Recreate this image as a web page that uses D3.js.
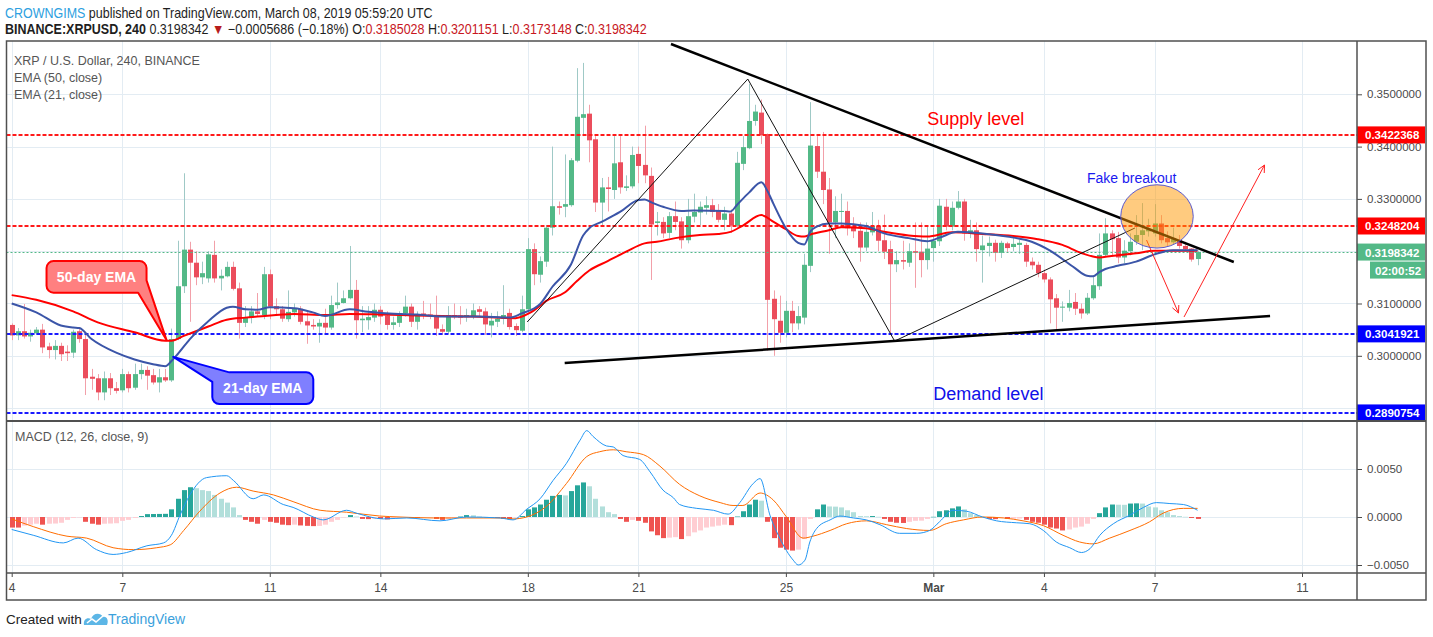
<!DOCTYPE html>
<html><head><meta charset="utf-8">
<script src="https://cdn.jsdelivr.net/npm/d3@7"></script>
<style>
body{margin:0;background:#fff}
svg{display:block}
text{font-family:Arial,"Liberation Sans",sans-serif}
</style>
</head><body>
<svg id="c" width="1433" height="637"></svg>
<script>
// ---------------- DATA ----------------
// 4h candles starting 2019-02-04 00:00 UTC : [open, high, low, close]
const ohlc = [
[0.3059,0.3062,0.3030,0.3039],[0.3039,0.3053,0.3030,0.3047],[0.3047,0.3099,0.3033,0.3037],[0.3037,0.3050,0.3027,0.3044],
[0.3043,0.3055,0.3040,0.3050],[0.3050,0.3061,0.3005,0.3016],[0.3018,0.3025,0.2995,0.3011],[0.3011,0.3030,0.2993,0.3019],
[0.3019,0.3025,0.2990,0.3003],[0.3008,0.3020,0.2990,0.3005],[0.3006,0.3050,0.2996,0.3046],[0.3047,0.3052,0.3025,0.3032],
[0.3032,0.3040,0.2925,0.2957],[0.2960,0.2975,0.2935,0.2956],[0.2957,0.2965,0.2915,0.2930],[0.2930,0.2970,0.2915,0.2957],
[0.2957,0.2967,0.2925,0.2938],[0.2938,0.2950,0.2928,0.2933],[0.2934,0.2975,0.2930,0.2965],[0.2965,0.2970,0.2930,0.2938],
[0.2939,0.2985,0.2935,0.2965],[0.2965,0.2985,0.2955,0.2973],[0.2973,0.2980,0.2935,0.2962],[0.2963,0.2975,0.2945,0.2949],
[0.2949,0.2975,0.2930,0.2959],[0.2959,0.2975,0.2950,0.2953],[0.2953,0.3052,0.2950,0.3032],[0.3032,0.3220,0.3030,0.3133],
[0.3133,0.3349,0.3120,0.3203],[0.3203,0.3218,0.3065,0.3178],[0.3178,0.3200,0.3135,0.3150],[0.3150,0.3180,0.3137,0.3158],
[0.3148,0.3200,0.3140,0.3194],[0.3193,0.3220,0.3140,0.3148],[0.3148,0.3165,0.3125,0.3153],[0.3152,0.3180,0.3150,0.3170],
[0.3170,0.3180,0.3125,0.3128],[0.3129,0.3140,0.3033,0.3063],[0.3063,0.3095,0.3055,0.3073],[0.3073,0.3095,0.3062,0.3085],
[0.3085,0.3120,0.3075,0.3080],[0.3078,0.3170,0.3070,0.3156],[0.3156,0.3165,0.3070,0.3094],[0.3095,0.3110,0.3080,0.3089],
[0.3089,0.3095,0.3065,0.3071],[0.3070,0.3125,0.3065,0.3084],[0.3083,0.3100,0.3075,0.3090],[0.3090,0.3095,0.3060,0.3065],
[0.3066,0.3085,0.3023,0.3058],[0.3059,0.3070,0.3050,0.3056],[0.3056,0.3070,0.3025,0.3063],[0.3063,0.3090,0.3040,0.3054],
[0.3054,0.3115,0.3050,0.3097],[0.3097,0.3140,0.3090,0.3102],[0.3101,0.3125,0.3100,0.3110],[0.3110,0.3210,0.3108,0.3126],
[0.3126,0.3145,0.3033,0.3068],[0.3068,0.3095,0.3045,0.3071],[0.3068,0.3095,0.3050,0.3074],[0.3073,0.3100,0.3065,0.3088],
[0.3088,0.3095,0.3060,0.3075],[0.3077,0.3085,0.3050,0.3059],[0.3059,0.3075,0.3050,0.3064],[0.3063,0.3085,0.3055,0.3081],
[0.3081,0.3115,0.3075,0.3094],[0.3094,0.3100,0.3055,0.3065],[0.3065,0.3085,0.3050,0.3078],[0.3081,0.3105,0.3070,0.3078],
[0.3079,0.3100,0.3070,0.3077],[0.3078,0.3115,0.3038,0.3052],[0.3051,0.3060,0.3040,0.3046],[0.3046,0.3095,0.3042,0.3078],
[0.3078,0.3100,0.3070,0.3074],[0.3077,0.3095,0.3060,0.3073],[0.3074,0.3090,0.3065,0.3078],[0.3074,0.3100,0.3070,0.3087],
[0.3089,0.3095,0.3075,0.3084],[0.3085,0.3092,0.3040,0.3060],[0.3058,0.3082,0.3035,0.3067],[0.3065,0.3085,0.3055,0.3071],
[0.3071,0.3135,0.3060,0.3078],[0.3082,0.3090,0.3050,0.3055],[0.3057,0.3062,0.3038,0.3049],[0.3048,0.3115,0.3045,0.3089],
[0.3089,0.3225,0.3080,0.3204],[0.3204,0.3215,0.3135,0.3156],[0.3155,0.3190,0.3140,0.3181],[0.3180,0.3250,0.3170,0.3245],
[0.3245,0.3400,0.3230,0.3286],[0.3286,0.3295,0.3270,0.3283],[0.3285,0.3385,0.3265,0.3290],[0.3288,0.3378,0.3285,0.3374],
[0.3373,0.3550,0.3370,0.3457],[0.3455,0.3560,0.3420,0.3462],[0.3463,0.3480,0.3370,0.3412],[0.3414,0.3420,0.3275,0.3293],
[0.3293,0.3340,0.3250,0.3322],[0.3322,0.3342,0.3276,0.3319],[0.3317,0.3420,0.3300,0.3368],[0.3370,0.3420,0.3310,0.3322],
[0.3321,0.3345,0.3315,0.3324],[0.3324,0.3400,0.3320,0.3384],[0.3386,0.3400,0.3330,0.3363],[0.3365,0.3440,0.3330,0.3345],
[0.3344,0.3360,0.3145,0.3251],[0.3254,0.3275,0.3230,0.3257],[0.3256,0.3265,0.3225,0.3234],[0.3235,0.3275,0.3225,0.3267],
[0.3267,0.3295,0.3240,0.3256],[0.3257,0.3265,0.3205,0.3221],[0.3221,0.3300,0.3215,0.3267],[0.3266,0.3310,0.3255,0.3275],
[0.3274,0.3295,0.3250,0.3285],[0.3283,0.3305,0.3270,0.3288],[0.3288,0.3300,0.3265,0.3275],[0.3277,0.3290,0.3255,0.3260],
[0.3260,0.3285,0.3240,0.3272],[0.3272,0.3280,0.3235,0.3249],[0.3249,0.3390,0.3245,0.3369],[0.3367,0.3420,0.3355,0.3399],
[0.3397,0.3520,0.3395,0.3449],[0.3449,0.3480,0.3440,0.3467],[0.3465,0.3490,0.3405,0.3422],[0.3424,0.3425,0.3010,0.3107],
[0.3109,0.3125,0.3000,0.3070],[0.3067,0.3115,0.3025,0.3044],[0.3044,0.3105,0.3035,0.3086],[0.3086,0.3105,0.3045,0.3062],
[0.3062,0.3095,0.3050,0.3076],[0.3073,0.3195,0.3060,0.3174],[0.3172,0.3485,0.3160,0.3402],[0.3401,0.3420,0.3340,0.3352],
[0.3352,0.3428,0.3290,0.3317],[0.3318,0.3340,0.3195,0.3255],[0.3255,0.3305,0.3225,0.3277],[0.3275,0.3310,0.3250,0.3277],
[0.3277,0.3295,0.3230,0.3244],[0.3247,0.3265,0.3225,0.3238],[0.3239,0.3255,0.3180,0.3207],[0.3207,0.3255,0.3200,0.3237],
[0.3236,0.3275,0.3230,0.3248],[0.3248,0.3260,0.3200,0.3220],[0.3221,0.3270,0.3185,0.3199],[0.3204,0.3220,0.3043,0.3175],
[0.3175,0.3200,0.3160,0.3183],[0.3183,0.3220,0.3165,0.3180],[0.3178,0.3215,0.3170,0.3200],[0.3200,0.3255,0.3130,0.3197],
[0.3199,0.3255,0.3150,0.3183],[0.3183,0.3250,0.3165,0.3205],[0.3206,0.3245,0.3180,0.3220],[0.3219,0.3300,0.3210,0.3287],
[0.3285,0.3300,0.3240,0.3247],[0.3247,0.3295,0.3240,0.3283],[0.3283,0.3315,0.3280,0.3295],[0.3295,0.3300,0.3220,0.3234],
[0.3234,0.3260,0.3225,0.3240],[0.3240,0.3255,0.3180,0.3204],[0.3202,0.3230,0.3140,0.3211],[0.3210,0.3228,0.3190,0.3216],
[0.3216,0.3222,0.3180,0.3197],[0.3197,0.3220,0.3187,0.3216],[0.3215,0.3218,0.3198,0.3206],[0.3208,0.3225,0.3200,0.3214],
[0.3212,0.3222,0.3195,0.3216],[0.3212,0.3216,0.3170,0.3180],[0.3180,0.3188,0.3165,0.3173],[0.3174,0.3180,0.3150,0.3158],
[0.3158,0.3165,0.3140,0.3146],[0.3146,0.3150,0.3062,0.3108],[0.3110,0.3118,0.3048,0.3092],[0.3092,0.3104,0.3065,0.3094],
[0.3092,0.3126,0.3085,0.3101],[0.3103,0.3120,0.3078,0.3090],[0.3090,0.3100,0.3071,0.3081],[0.3081,0.3120,0.3078,0.3111],
[0.3110,0.3151,0.3107,0.3135],[0.3133,0.3234,0.3126,0.3193],[0.3193,0.3263,0.3190,0.3234],[0.3234,0.3240,0.3190,0.3223],
[0.3225,0.3237,0.3177,0.3188],[0.3188,0.3221,0.3177,0.3201],[0.3200,0.3234,0.3192,0.3218],[0.3218,0.3269,0.3212,0.3231],
[0.3231,0.3292,0.3202,0.3240],[0.3238,0.3262,0.3228,0.3243],[0.3234,0.3290,0.3228,0.3253],[0.3253,0.3269,0.3215,0.3221],
[0.3225,0.3238,0.3210,0.3217],[0.3217,0.3245,0.3212,0.3225],[0.3221,0.3231,0.3205,0.3210],[0.3210,0.3218,0.3200,0.3204],
[0.3205,0.3206,0.3180,0.3184],[0.3185028,0.3201151,0.3173148,0.3198342]
];
// EMA(50) and EMA(21): [candle index, value]
const ema50 = [[0,0.3116],[4,0.3107],[10,0.3085],[14,0.3064],[20,0.3045],[25,0.3029],[26,0.3029],[28,0.3038],[32,0.3056],[35,0.3069],[38,0.3073],[40,0.3075],[46,0.3080],[51,0.3078],[55,0.3080],[60,0.3079],[66,0.3077],[75,0.3075],[82,0.3072],[84,0.3080],[85,0.3087],[87,0.3105],[90,0.3121],[92,0.3143],[94,0.3163],[97,0.3181],[100,0.3199],[103,0.3215],[105,0.3218],[108,0.3225],[112,0.3231],[115,0.3233],[117,0.3237],[119,0.3249],[122,0.3269],[124,0.3256],[126,0.3242],[128,0.3229],[129,0.3228],[130,0.3232],[133,0.3240],[135,0.3246],[139,0.3244],[142,0.3237],[146,0.3230],[149,0.3228],[153,0.3236],[158,0.3233],[163,0.3229],[167,0.3223],[171,0.3212],[174,0.3197],[177,0.3188],[179,0.3191],[183,0.3196],[186,0.3201],[193,0.3201]];
const ema21 = [[0,0.3100],[4,0.3083],[8,0.3058],[10,0.3054],[11,0.3053],[13,0.3032],[17,0.3006],[20,0.2993],[23,0.2984],[25,0.2980],[26,0.2990],[27,0.3003],[29,0.3032],[32,0.3066],[35,0.3092],[36,0.3094],[38,0.3089],[40,0.3088],[42,0.3093],[46,0.3091],[49,0.3083],[51,0.3076],[55,0.3089],[58,0.3084],[63,0.3080],[66,0.3079],[70,0.3075],[76,0.3075],[81,0.3073],[83,0.3081],[86,0.3099],[88,0.3132],[91,0.3174],[93,0.3230],[94,0.3244],[96,0.3256],[99,0.3275],[102,0.3298],[103,0.3299],[104,0.3294],[106,0.3285],[109,0.3277],[111,0.3278],[116,0.3277],[117,0.3276],[118,0.3288],[120,0.3312],[122,0.3332],[123,0.3315],[124,0.3290],[126,0.3244],[128,0.3216],[129,0.3213],[130,0.3238],[131,0.3247],[133,0.3253],[135,0.3253],[139,0.3248],[142,0.3234],[146,0.3225],[149,0.3219],[151,0.3226],[154,0.3237],[158,0.3234],[162,0.3228],[166,0.3218],[169,0.3201],[173,0.3168],[175,0.3153],[176,0.3152],[177,0.3160],[178,0.3166],[180,0.3172],[183,0.3180],[186,0.3194],[189,0.3202],[193,0.3202]];
// MACD (12,26,9)
const macdLine = [[0,-0.0013],[3.5,-0.0019],[8.4,-0.0027],[10.8,-0.0022],[13.8,-0.0034],[16.5,-0.0039],[18.7,-0.0037],[22,-0.0030],[24.7,-0.0027],[26,-0.0019],[27.4,0.0002],[29,0.0023],[31.7,0.0041],[35,0.0043],[36.1,0.0038],[39.3,0.0019],[41,0.0023],[44.2,0.0013],[45.8,0.0010],[49.1,0.0000],[50.7,-0.0003],[54.5,0.0007],[56.1,0.0004],[60.5,-0.0002],[64.3,-0.0001],[69.7,-0.0004],[74,0.0000],[79.5,-0.0001],[81.6,-0.0003],[83.8,0.0008],[86,0.0019],[88.1,0.0038],[90.3,0.0056],[92.5,0.0080],[93.6,0.0090],[94.6,0.0084],[96.8,0.0074],[97.9,0.0073],[99.5,0.0064],[102.2,0.0060],[103.9,0.0047],[106,0.0028],[107.7,0.0020],[108.7,0.0013],[111.5,0.0009],[114.2,0.0007],[116.6,0.0003],[118.5,0.0015],[120.7,0.0035],[121.8,0.0040],[123.4,0.0002],[125,-0.0022],[127.2,-0.0045],[128,-0.0050],[129.1,-0.0045],[129.9,-0.0026],[131,-0.0012],[133.2,-0.0003],[134.8,0.0001],[137,-0.0001],[139.1,-0.0003],[141.3,-0.0008],[144.5,-0.0017],[147.3,-0.0017],[149.4,-0.0014],[151,-0.0005],[153.2,0.0007],[155.4,0.0006],[158,0.0000],[160.3,-0.0004],[163.5,-0.0006],[165.7,-0.0007],[167.9,-0.0014],[170,-0.0026],[172.2,-0.0032],[174.1,-0.0037],[175.5,-0.0033],[177.1,-0.0019],[179.3,-0.0007],[182,0.0002],[184.2,0.0010],[186.3,0.0015],[188.5,0.0014],[190.7,0.0013],[193,0.0007]];
const signalLine = [[0,-0.0002],[3.5,-0.0010],[9,-0.0020],[12.2,-0.0022],[16.5,-0.0032],[19.8,-0.0034],[23.6,-0.0032],[25.8,-0.0029],[28,-0.0014],[30.6,0.0006],[33.9,0.0025],[36.6,0.0031],[39.3,0.0027],[42.6,0.0023],[45.8,0.0016],[50.2,0.0007],[54.5,0.0005],[59.9,0.0001],[63.2,0.0000],[68.6,-0.0001],[74,-0.0001],[79.5,-0.0001],[81.6,-0.0002],[83.8,0.0000],[87,0.0011],[90.3,0.0035],[93.6,0.0063],[95.7,0.0068],[97.9,0.0070],[100,0.0068],[102.8,0.0065],[105.5,0.0053],[108.7,0.0034],[112,0.0022],[115.3,0.0015],[117.4,0.0012],[119,0.0012],[121.8,0.0025],[123.9,0.0018],[126.1,0.0000],[128.8,-0.0022],[130.4,-0.0020],[133.2,-0.0014],[135.9,-0.0007],[139.1,-0.0004],[142.4,-0.0008],[145.6,-0.0012],[149.4,-0.0014],[152.1,-0.0007],[154.9,-0.0003],[158,0.0000],[161.4,-0.0001],[164.6,-0.0004],[167.9,-0.0009],[171.1,-0.0019],[173.8,-0.0026],[176,-0.0028],[178.7,-0.0022],[182,-0.0014],[185.2,-0.0005],[187.4,0.0004],[190.7,0.0009],[193,0.0009]];
const macdHist = [
-0.0011,-0.0011,-0.0009,-0.0008,-0.0007,-0.0008,-0.0007,-0.00068,-0.0006,-0.0003,
-0.0001,-0.00005,-0.0005,-0.0007,-0.0008,-0.0007,-0.00068,-0.00065,-0.0004,-0.0003,
-0.0001,0.0001,0.0003,0.00031,0.00032,0.00033,0.0008,0.0019,0.0028,0.0031,
0.0030,0.0028,0.0027,0.0023,0.0019,0.0015,0.0010,0.0002,-0.0003,-0.0005,
-0.0007,-0.0003,-0.0005,-0.0006,-0.0008,-0.00085,-0.0008,-0.00088,-0.00092,-0.00095,
-0.00093,-0.0008,-0.0005,-0.0003,-0.00005,0.0002,0.00005,-0.0002,-0.00022,-0.00018,
-0.0002,-0.00025,-0.00012,-0.0001,-0.00005,-0.0001,-0.00011,-0.00005,-0.00004,-0.0002,
-0.0003,-0.0002,-0.0001,0.00005,0.0002,0.00018,0.00005,0.00001,-0.00005,-0.0001,
-0.0002,-0.00022,-0.00005,0.0001,0.0008,0.0010,0.0013,0.0018,0.0022,0.0023,
0.00225,0.0027,0.0033,0.0036,0.0032,0.0019,0.0011,0.0005,0.0003,-0.0002,
-0.0005,-0.0003,-0.0004,-0.0006,-0.0015,-0.0019,-0.0022,-0.00215,-0.0021,-0.0023,
-0.0020,-0.0016,-0.0014,-0.0011,-0.0010,-0.0009,-0.0008,-0.00085,0.00005,0.0006,
0.0013,0.0018,0.0017,-0.0005,-0.0022,-0.0032,-0.0034,-0.0035,-0.0034,-0.0023,
-0.0002,0.0008,0.0013,0.0011,0.00108,0.0010,0.0007,0.0005,0.0001,0.00008,
0.0001,0.00002,-0.0002,-0.0005,-0.0006,-0.00062,-0.0005,-0.0004,-0.00038,-0.0002,
0.00002,0.0006,0.0007,0.0009,0.0011,0.0008,0.0004,0.0002,0.00002,-0.0002,
-0.00022,-0.0001,-0.0002,-0.00018,-0.00016,-0.0003,-0.0005,-0.0006,-0.0008,-0.0011,
-0.0012,-0.0014,-0.0013,-0.0011,-0.0010,-0.0007,-0.0002,0.0004,0.0010,0.0013,
0.00128,0.00127,0.0014,0.00142,0.0014,0.0011,0.0010,0.0007,0.0005,0.0002,
0.0001,0.00002,-0.0001,-0.0002];
const supplyLevels = [0.3422368, 0.3248204];
const demandLevels = [0.3041921, 0.2890754];
const priceTicks = [0.29,0.30,0.31,0.32,0.33,0.34,0.35];
const priceTickLabels = [0.30,0.31,0.33,0.34,0.35];
const macdTicks = [-0.005, 0, 0.005];
const dateTicks = ["2019-02-04","2019-02-07","2019-02-11","2019-02-14","2019-02-18","2019-02-21","2019-02-25","2019-03-01","2019-03-04","2019-03-07","2019-03-11"];
const countdown = "02:00:52";
const changeText = "\u22120.0005686 (\u22120.18%)";
// drawings (candle index, price)
const trendUpper = [[107.3,0.35962],[198.9,0.31794]];
const trendLower = [[90.0,0.29862],[204.8,0.30761]];
const wavePath = [[83.9,0.30646],[119.8,0.35292],[143.7,0.30282],[182.8,0.32443]];
const arrowDown = [[184.7,0.32213],[189.9,0.30818]];
const arrowUp = [[190.8,0.30742],[203.9,0.33648]];
const fakeZone = {i0:180.5, i1:192.3, p0:0.3206, p1:0.3327};
const labelsText = [
  {t:"Supply level", i:149, p:0.34528, c:"#ff0000", s:18},
  {t:"Demand level", i:150, p:0.29269, c:"#1010e8", s:18},
  {t:"Fake breakout", i:175, p:0.3340, c:"#1a1af0", s:14}
];

// ---------------- LAYOUT ----------------
const svg = d3.select("#c");
svg.append("rect").attr("width",1433).attr("height",637).attr("fill","#fff");
const L=6.5, R=1357, T=41, MB=421, PB=573, AB=600, AR=1426;
const base = Date.UTC(2019,1,4), H4 = 4*3600*1000;
const x = d3.scaleUtc().domain([new Date(base), new Date(Date.UTC(2019,2,11))]).range([11.7,1302]);
const xi = i => x(new Date(base + i*H4));
const y = d3.scaleLinear().domain([0.29,0.35]).range([408.1,94.3]);
const ym = d3.scaleLinear().domain([-0.005,0.005]).range([565,469]);
const gridC = "#e3ecf3";
const dates = dateTicks.map(s => new Date(s+"T00:00:00Z"));

const defs = svg.append("defs");
defs.append("clipPath").attr("id","cm").append("rect").attr("x",L).attr("y",T).attr("width",R-L).attr("height",MB-T);
defs.append("clipPath").attr("id","cd").append("rect").attr("x",L).attr("y",MB).attr("width",R-L).attr("height",PB-MB);

// grid
const grid = svg.append("g");
grid.selectAll("line.h").data(priceTicks).join("line")
  .attr("x1",L).attr("x2",R).attr("y1",d=>Math.round(y(d))+0.5).attr("y2",d=>Math.round(y(d))+0.5)
  .attr("stroke",gridC);
grid.selectAll("line.hm").data(macdTicks).join("line")
  .attr("x1",L).attr("x2",R).attr("y1",d=>Math.round(ym(d))+0.5).attr("y2",d=>Math.round(ym(d))+0.5)
  .attr("stroke",gridC);
grid.selectAll("line.v").data(dates).join("line")
  .attr("x1",d=>Math.round(x(d))+0.5).attr("x2",d=>Math.round(x(d))+0.5).attr("y1",T).attr("y2",PB)
  .attr("stroke",gridC);

// main pane
const gm = svg.append("g").attr("clip-path","url(#cm)");
const upC="#53b987", dnC="#eb4d5c", upW="#9fc9c6", dnW="#f2a0a9";
const cx = i => Math.round(xi(i));
gm.selectAll("line.wick").data(ohlc).join("line")
  .attr("x1",(d,i)=>cx(i)+0.5).attr("x2",(d,i)=>cx(i)+0.5)
  .attr("y1",d=>y(Math.max(d[1],d[0],d[3]))).attr("y2",d=>y(Math.min(d[2],d[0],d[3])))
  .attr("stroke",d=>d[3]>=d[0]?upW:dnW).attr("stroke-width",1);
gm.selectAll("rect.body").data(ohlc).join("rect")
  .attr("x",(d,i)=>cx(i)-2).attr("width",5)
  .attr("y",d=>y(Math.max(d[0],d[3])))
  .attr("height",d=>Math.max(1,Math.abs(y(d[0])-y(d[3]))))
  .attr("fill",d=>d[3]>=d[0]?upC:dnC);

// level lines
const lvl = (v,c)=>gm.append("line").attr("x1",L).attr("x2",R).attr("y1",y(v)).attr("y2",y(v))
  .attr("stroke",c).attr("stroke-width",2).attr("stroke-dasharray","4 2");
supplyLevels.forEach(v=>lvl(v,"#ff1a1a"));
demandLevels.forEach(v=>lvl(v,"#1a1aff"));
const last = ohlc[ohlc.length-1];
gm.append("line").attr("x1",L).attr("x2",R).attr("y1",Math.round(y(last[3]))+0.5).attr("y2",Math.round(y(last[3]))+0.5)
  .attr("stroke",upC).attr("stroke-width",1).attr("stroke-dasharray","2 2");

// EMAs
const lineP = d3.line().x(d=>xi(d[0])).y(d=>y(d[1])).curve(d3.curveMonotoneX);
gm.append("path").attr("d",lineP(ema50)).attr("fill","none").attr("stroke","#ff0000").attr("stroke-width",2);
gm.append("path").attr("d",lineP(ema21)).attr("fill","none").attr("stroke","#3b55a8").attr("stroke-width",2);

// drawings
const straight = d3.line().x(d=>xi(d[0])).y(d=>y(d[1]));
gm.append("path").attr("d",straight(wavePath)).attr("fill","none").attr("stroke","#111").attr("stroke-width",1);
gm.append("path").attr("d",straight(trendUpper)).attr("fill","none").attr("stroke","#000").attr("stroke-width",2.5);
gm.append("path").attr("d",straight(trendLower)).attr("fill","none").attr("stroke","#000").attr("stroke-width",2.5);
function arrow(pts){
  const x1=xi(pts[0][0]), y1=y(pts[0][1]), x2=xi(pts[1][0]), y2=y(pts[1][1]);
  const a=Math.atan2(y2-y1,x2-x1), h=8, w=0.45;
  gm.append("path").attr("d",`M${x1},${y1}L${x2},${y2}M${x2-h*Math.cos(a-w)},${y2-h*Math.sin(a-w)}L${x2},${y2}L${x2-h*Math.cos(a+w)},${y2-h*Math.sin(a+w)}`)
    .attr("fill","none").attr("stroke","#ff2020").attr("stroke-width",1);
}
arrow(arrowDown); arrow(arrowUp);
gm.append("ellipse")
  .attr("cx",(xi(fakeZone.i0)+xi(fakeZone.i1))/2).attr("cy",(y(fakeZone.p0)+y(fakeZone.p1))/2)
  .attr("rx",(xi(fakeZone.i1)-xi(fakeZone.i0))/2).attr("ry",(y(fakeZone.p0)-y(fakeZone.p1))/2)
  .attr("fill","rgba(255,152,0,0.5)").attr("stroke","#5a5ad0").attr("stroke-width",1);
labelsText.forEach(d=>gm.append("text").attr("x",xi(d.i)).attr("y",y(d.p)).attr("dominant-baseline","central")
  .attr("font-size",d.s).attr("fill",d.c).text(d.t));

// callouts
function callout(pathD, fill, stroke, tx, ty, label){
  svg.append("path").attr("d",pathD).attr("fill",fill).attr("stroke",stroke).attr("stroke-width",2).attr("stroke-linejoin","round");
  svg.append("text").attr("x",tx).attr("y",ty).attr("text-anchor","middle").attr("dominant-baseline","central")
    .attr("font-size",14).attr("font-weight","bold").attr("fill","#fff").text(label);
}
{
  const tx=xi(25.2), ty=y(ema50[5][1]+0.0001);
  const bl=tx-120, bt=ty-79, br=tx-20, bb=ty-47.4, r=7;
  const d=`M${bl+r},${bt}H${br-r}A${r},${r} 0 0 1 ${br},${bt+r}V${ty-59.7}L${tx},${ty}L${tx-28.4},${bb}H${bl+r}A${r},${r} 0 0 1 ${bl},${bb-r}V${bt+r}A${r},${r} 0 0 1 ${bl+r},${bt}Z`;
  callout(d,"#ff8080","#ff0000",(bl+br)/2,(bt+bb)/2,"50-day EMA");
}
{
  const tx=xi(26.3), ty=y(0.2998);
  const bl=tx+39, bt=ty+15.5, br=tx+140, bb=ty+47.2, r=7;
  const d=`M${tx+56},${bt}H${br-r}A${r},${r} 0 0 1 ${br},${bt+r}V${bb-r}A${r},${r} 0 0 1 ${br-r},${bb}H${bl+r}A${r},${r} 0 0 1 ${bl},${bb-r}V${ty+25}L${tx},${ty}Z`;
  callout(d,"#7f7fff","#0000ff",(bl+br)/2,(bt+bb)/2,"21-day EMA");
}

// MACD pane
const gd = svg.append("g").attr("clip-path","url(#cd)");
const histColor = (v,i)=>{
  const p = i>0?macdHist[i-1]:v;
  if (v>=0) return p<v?"#26a69a":"#b2dfdb";
  return p<v?"#ffcdd2":"#ef5350";
};
gd.selectAll("rect.h").data(macdHist).join("rect")
  .attr("x",(d,i)=>cx(i)-2).attr("width",5)
  .attr("y",d=>Math.min(ym(d),ym(0))).attr("height",d=>Math.max(0.5,Math.abs(ym(d)-ym(0))))
  .attr("fill",histColor);
const lineM = d3.line().x(d=>xi(d[0])).y(d=>ym(d[1])).curve(d3.curveMonotoneX);
gd.append("path").attr("d",lineM(signalLine)).attr("fill","none").attr("stroke","#ff6d00").attr("stroke-width",1);
gd.append("path").attr("d",lineM(macdLine)).attr("fill","none").attr("stroke","#2196f3").attr("stroke-width",1);

// axes
const axC="#4a4a4a";
const f7 = d3.format(".7f");
const ay = svg.append("g").attr("transform",`translate(${R},0)`)
  .call(d3.axisRight(y).tickValues(priceTicks).tickFormat(d=>priceTickLabels.some(v=>Math.abs(v-d)<1e-9)?f7(d):"").tickSize(5).tickPadding(5));
const aym = svg.append("g").attr("transform",`translate(${R},0)`)
  .call(d3.axisRight(ym).tickValues(macdTicks).tickFormat(d3.format(".4f")).tickSize(5).tickPadding(5));
const ax = svg.append("g").attr("transform",`translate(0,${PB})`)
  .call(d3.axisBottom(x).tickValues(dates).tickFormat(d=>d.getUTCDate()===1?"Mar":d.getUTCDate()).tickSize(4).tickPadding(6));
[ay,aym,ax].forEach(a=>{a.select(".domain").remove(); a.selectAll("line").attr("stroke",axC);
  a.selectAll("text").attr("fill",axC).attr("font-size",11.5).attr("font-family","Arial, 'Liberation Sans', sans-serif");});
ay.selectAll("text").filter(function(){return this.textContent==="";}).remove();
ax.selectAll("text").attr("font-size",12).attr("font-weight",d=>d.getUTCDate()===1?"bold":null);

// price labels on axis
function plabel(v, c, txt){
  const yy=y(v);
  svg.append("rect").attr("x",R).attr("y",yy-8.5).attr("width",AR-R-1).attr("height",17).attr("fill",c);
  svg.append("text").attr("x",R+8).attr("y",yy+0.5).attr("dominant-baseline","central").attr("font-size",11.5)
    .attr("font-weight","bold").attr("fill","#fff").text(txt);
}
supplyLevels.forEach(v=>plabel(v,"#ff0000",f7(v)));
demandLevels.forEach(v=>plabel(v,"#0000ff",f7(v)));
plabel(last[3],upC,f7(last[3]));
{
  const yy=y(last[3])+18;
  svg.append("rect").attr("x",R+13).attr("y",yy-8.5).attr("width",AR-R-14).attr("height",17).attr("fill",upC);
  svg.append("text").attr("x",R+18).attr("y",yy+0.5).attr("dominant-baseline","central").attr("font-size",11.5)
    .attr("font-weight","bold").attr("fill","#fff").text(countdown);
}

// frame
const fr = svg.append("g").attr("stroke","#505050").attr("fill","none");
fr.append("rect").attr("x",L).attr("y",T).attr("width",AR-L).attr("height",AB-T).attr("stroke-width",1.5);
fr.append("line").attr("x1",L).attr("x2",AR).attr("y1",MB).attr("y2",MB).attr("stroke-width",2);
fr.append("line").attr("x1",L).attr("x2",AR).attr("y1",PB).attr("y2",PB).attr("stroke-width",1.5);
fr.append("line").attr("x1",R).attr("x2",R).attr("y1",T).attr("y2",AB).attr("stroke-width",1.5);

// legends
const lg = svg.append("g").attr("font-size",12.5).attr("fill","#555");
lg.append("text").attr("x",14).attr("y",61).attr("dominant-baseline","central").text("XRP / U.S. Dollar, 240, BINANCE");
lg.append("text").attr("x",14).attr("y",78).attr("dominant-baseline","central").text("EMA (50, close)");
lg.append("text").attr("x",14).attr("y",95).attr("dominant-baseline","central").text("EMA (21, close)");
lg.append("text").attr("x",15).attr("y",437).attr("dominant-baseline","central").text("MACD (12, 26, close, 9)");

// header (scaled horizontally to the reference width)
function fitText(sel, x0, target){
  const w = sel.node().getComputedTextLength();
  sel.attr("x",0).attr("transform",`translate(${x0},0) scale(${target/w},1)`);
}
const h1 = svg.append("text").attr("y",13).attr("dominant-baseline","central").attr("font-size",14);
h1.append("tspan").attr("fill","#2e9fe0").text("CROWNGIMS");
h1.append("tspan").attr("fill","#1e1e1e").text(" published on TradingView.com, March 08, 2019 05:59:20 UTC");
fitText(h1,5,428);
const h2 = svg.append("text").attr("y",29).attr("dominant-baseline","central").attr("font-size",14).attr("fill","#1e1e1e");
h2.append("tspan").attr("font-weight","bold").text("BINANCE:XRPUSD, 240");
h2.append("tspan").text(" " + f7(last[3]) + " ");
h2.append("tspan").attr("fill","#b71c1c").text("\u25BC");
h2.append("tspan").text(" " + changeText + " ");
[["O:",last[0]],["H:",last[1]],["L:",last[2]],["C:",last[3]]].forEach((p,k)=>{
  h2.append("tspan").text((k?" ":"")+p[0]);
  h2.append("tspan").attr("fill","#c8171e").text(f7(p[1]));
});
fitText(h2,5,642);

// footer
svg.append("text").attr("x",6).attr("y",619).attr("dominant-baseline","central").attr("font-size",13.5).attr("fill","#222").text("Created with");
const logo = svg.append("g").attr("transform","translate(83,611)");
logo.append("path").attr("d","M1,14 C0,9 4,6 8,8 C10,2 17,1 20,6 C24,5 26,10 24,14 Z").attr("fill","#5cb6e6");
logo.append("path").attr("d","M4,12 L9,8 L13,11 L20,5").attr("fill","none").attr("stroke","#fff").attr("stroke-width",1.6);
svg.append("text").attr("x",108).attr("y",619).attr("dominant-baseline","central").attr("font-size",14).attr("fill","#3ba1dc").text("TradingView");
</script>
</body></html>
